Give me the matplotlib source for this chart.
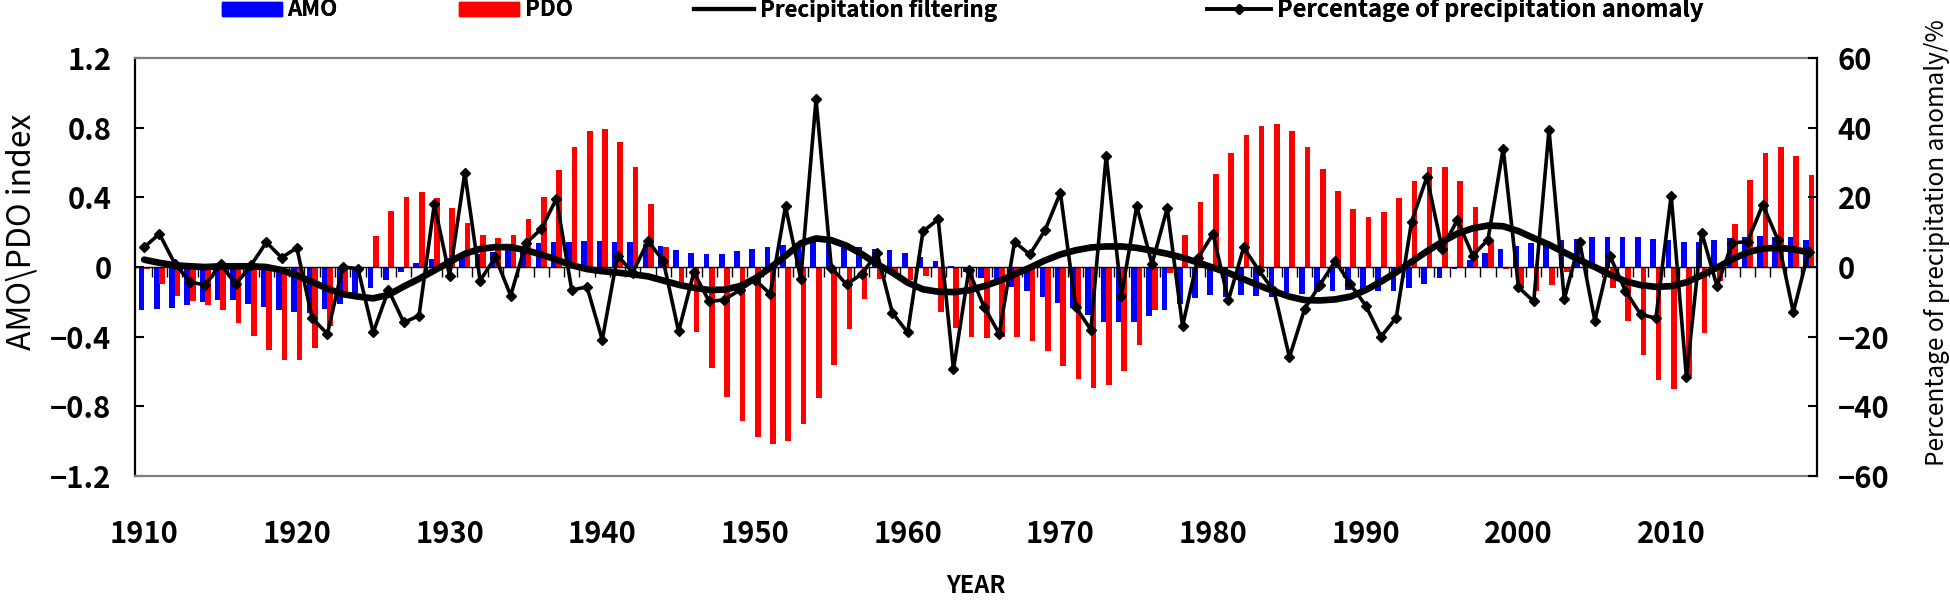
import numpy as np
import matplotlib
matplotlib.use("Agg")
import matplotlib.pyplot as plt
from matplotlib.patches import Patch
from matplotlib.lines import Line2D

plt.rcParams['font.family'] = ['Noto Sans CJK SC', 'DejaVu Sans']

years = np.arange(1910, 2020)

amo = [-0.246, -0.243, -0.237, -0.22, -0.203, -0.19, -0.19, -0.21, -0.228, -0.246,
       -0.256, -0.265, -0.243, -0.21, -0.16, -0.123, -0.072, -0.028, 0.023, 0.047,
       0.054, 0.06, 0.075, 0.085, 0.1, 0.123, 0.138, 0.142, 0.145, 0.148,
       0.148, 0.146, 0.146, 0.13, 0.118, 0.1, 0.08, 0.076, 0.076, 0.089,
       0.102, 0.116, 0.127, 0.138, 0.144, 0.14, 0.12, 0.117, 0.104, 0.1,
       0.08, 0.057, 0.034, 0.004, -0.028, -0.066, -0.085, -0.114, -0.137, -0.171,
       -0.209, -0.235, -0.275, -0.313, -0.318, -0.313, -0.284, -0.246, -0.21, -0.18,
       -0.161, -0.171, -0.161, -0.167, -0.171, -0.152, -0.155, -0.142, -0.137, -0.133,
       -0.129, -0.137, -0.137, -0.123, -0.099, -0.061, -0.01, 0.04, 0.082, 0.105,
       0.123, 0.138, 0.142, 0.153, 0.16, 0.175, 0.175, 0.175, 0.171, 0.16,
       0.153, 0.145, 0.145, 0.153, 0.167, 0.175, 0.18, 0.17, 0.17, 0.153]

pdo = [-0.01, -0.1, -0.165, -0.193, -0.22, -0.248, -0.32, -0.397, -0.475, -0.535,
       -0.535, -0.465, -0.34, -0.17, -0.02, 0.18, 0.322, 0.401, 0.43, 0.397,
       0.337, 0.254, 0.184, 0.164, 0.184, 0.278, 0.402, 0.555, 0.688, 0.781,
       0.792, 0.718, 0.573, 0.359, 0.117, -0.1, -0.373, -0.579, -0.748, -0.883,
       -0.975, -1.015, -0.998, -0.9, -0.752, -0.565, -0.358, -0.185, -0.07, -0.03,
       -0.075, -0.05, -0.258, -0.351, -0.4, -0.41, -0.4, -0.4, -0.423, -0.483,
       -0.571, -0.645, -0.693, -0.68, -0.598, -0.446, -0.247, -0.034, 0.183, 0.372,
       0.535, 0.656, 0.758, 0.808, 0.819, 0.78, 0.688, 0.563, 0.435, 0.334,
       0.289, 0.316, 0.397, 0.496, 0.573, 0.573, 0.496, 0.345, 0.157, -0.012,
       -0.114, -0.136, -0.103, -0.026, -0.005, -0.01, -0.119, -0.308, -0.504, -0.65,
       -0.70, -0.625, -0.377, -0.08, 0.247, 0.5, 0.655, 0.69, 0.64, 0.53]

precip = [5.7, 9.5, 1.0, -4.3, -5.2, 0.8, -4.9, 0.5, 7.1, 2.7,
          5.5, -14.7, -19.2, 0.0, -0.5, -18.8, -6.6, -15.9, -14.0, 18.0,
          -2.5, 27.0, -3.9, 2.8, -8.2, 6.8, 10.9, 19.6, -6.6, -5.7,
          -20.9, 3.3, -1.6, 7.5, 1.7, -18.5, -1.5, -9.9, -9.4, -6.6,
          -3.7, -7.7, 17.4, -3.4, 48.2, -0.2, -5.0, -2.0, 4.0, -13.2,
          -18.8, 10.2, 13.7, -29.4, -1.0, -11.4, -19.2, 7.2, 3.6, 10.6,
          21.3, -11.5, -18.0, 32.0, -8.2, 17.5, 0.9, 16.9, -17.0, 2.5,
          9.5, -9.6, 5.6, -1.0, -7.0, -25.9, -12.0, -5.1, 1.7, -5.0,
          -11.1, -20.0, -14.5, 13.0, 25.8, 5.3, 13.5, 3.3, 7.8, 34.0,
          -5.8, -9.9, 39.4, -9.2, 7.3, -15.4, 3.1, -6.8, -13.6, -14.7,
          20.5, -31.6, 9.9, -5.5, 6.9, 7.3, 17.9, 7.7, -12.9, 4.4]

filtered = [2.1, 1.2, 0.5, 0.2, 0.0, 0.2, 0.2, 0.2, 0.0, -0.9,
            -2.4, -4.3, -6.2, -7.8, -8.5, -9.0, -8.0, -5.6, -3.4, -1.0,
            1.4, 3.8, 5.2, 5.7, 5.7, 4.8, 3.6, 2.1, 0.5, -0.6,
            -1.2, -1.6, -2.1, -2.7, -3.9, -5.1, -6.0, -6.6, -6.5, -5.5,
            -3.3, -0.2, 3.2, 6.8, 8.2, 7.7, 6.1, 3.7, 0.8, -1.6,
            -4.5, -6.4, -7.1, -7.2, -6.7, -5.5, -4.0, -2.1, -0.2, 1.9,
            3.6, 4.8, 5.6, 5.9, 5.9, 5.5, 4.7, 3.8, 2.7, 1.3,
            -0.2, -1.7, -3.5, -5.3, -7.0, -8.5, -9.5, -9.6, -9.3, -8.5,
            -6.6, -4.2, -1.5, 1.5, 4.5, 7.2, 9.6, 11.1, 11.9, 11.7,
            10.3, 8.3, 6.4, 4.2, 2.0, 0.0, -2.2, -4.1, -5.2, -5.7,
            -5.5, -4.4, -2.4, -0.2, 2.2, 4.2, 5.3, 5.5, 5.1, 4.2]

left_ticks = [-1.2, -0.8, -0.4, 0, 0.4, 0.8, 1.2]
left_labels = ['\u22121.2', '\u22120.8', '\u22120.4', '0', '0.4', '0.8', '1.2']
right_ticks = [-60, -40, -20, 0, 20, 40, 60]
right_labels = ['\u221260', '\u221240', '\u221220', '0', '20', '40', '60']

W, H = 1950, 605

# figure --------------(2)
fig = plt.figure(figsize=(W / 100, H / 100), dpi=100)
ax = fig.add_axes([135 / W, 1 - 476 / H, 1682 / W, 418 / H])

ax.bar(years - 0.18, amo, width=0.37, color='#0000FF', zorder=2)
ax.bar(years + 0.18, pdo, width=0.37, color='#FF0000', zorder=2)
ax.axhline(0, color='black', lw=1, zorder=3)
ax.plot(years[:-1] + 0.5, np.zeros(len(years) - 1), ls='none', marker=3,
        ms=7, mew=1, color='black', zorder=3)

ax.set_xlim(1909.4, 2019.55)
ax.set_ylim(-1.2, 1.2)
ax.set_xticks(np.arange(1910, 2020, 10))
ax.set_yticks(left_ticks)
ax.set_yticklabels(left_labels)
ax.tick_params(axis='x', length=0, pad=31, labelsize=21)
ax.tick_params(axis='y', direction='in', length=6.5, width=1.5, pad=17,
               labelsize=21)
for lab in ax.get_xticklabels() + ax.get_yticklabels():
    lab.set_fontweight('bold')

ax.spines['top'].set_color('#808080')
ax.spines['bottom'].set_color('#808080')
ax.spines['top'].set_linewidth(1.6)
ax.spines['bottom'].set_linewidth(1.6)
ax.spines['left'].set_linewidth(1.6)
ax.spines['right'].set_visible(False)

# right axis lines --------------(3)
ax2 = ax.twinx()
ax2.plot(years, filtered, color='black', lw=4.8, solid_capstyle='round', zorder=4)
ax2.plot(years, precip, color='black', lw=2.6, marker='D', ms=5, zorder=5)
ax2.set_ylim(-60, 60)
ax2.set_yticks(right_ticks)
ax2.set_yticklabels(right_labels)
ax2.tick_params(axis='y', direction='in', length=6.5, width=1.5, pad=15,
                labelsize=21)
for lab in ax2.get_yticklabels():
    lab.set_fontweight('bold')
for s in ['top', 'bottom', 'left']:
    ax2.spines[s].set_visible(False)
ax2.spines['right'].set_linewidth(1.6)

# labels --------------(4)
ax.set_xlabel('YEAR', fontsize=17, fontweight='bold', labelpad=18)
fig.text(22 / W, 1 - 232 / H, 'AMO\\PDO index', rotation=90, fontsize=23,
         ha='center', va='center')
fig.text(1937 / W, 1 - 243 / H, 'Percentage of precipitation anomaly/%',
         rotation=90, fontsize=17.5, ha='center', va='center')

# legend --------------(5)
entries = [
    (Patch(color='#0000FF'), 'AMO', 222, 16),
    (Patch(color='#FF0000'), 'PDO', 459, 16),
    (Line2D([], [], color='black', lw=3), 'Precipitation filtering', 694, 16),
    (Line2D([], [], color='black', lw=2.6, marker='D', ms=5),
     'Percentage of precipitation anomaly', 1207, 17),
]
for handle, text, xpos, fsize in entries:
    leg = fig.legend([handle], [text], loc='center left',
                     bbox_to_anchor=(xpos / W, 1 - 10 / H), frameon=False,
                     handlelength=2.7, handleheight=0.6, handletextpad=0.25,
                     borderpad=0, borderaxespad=0,
                     prop={'size': fsize, 'weight': 'bold'})
    fig.add_artist(leg)

fig.savefig('out.png', dpi=100)
